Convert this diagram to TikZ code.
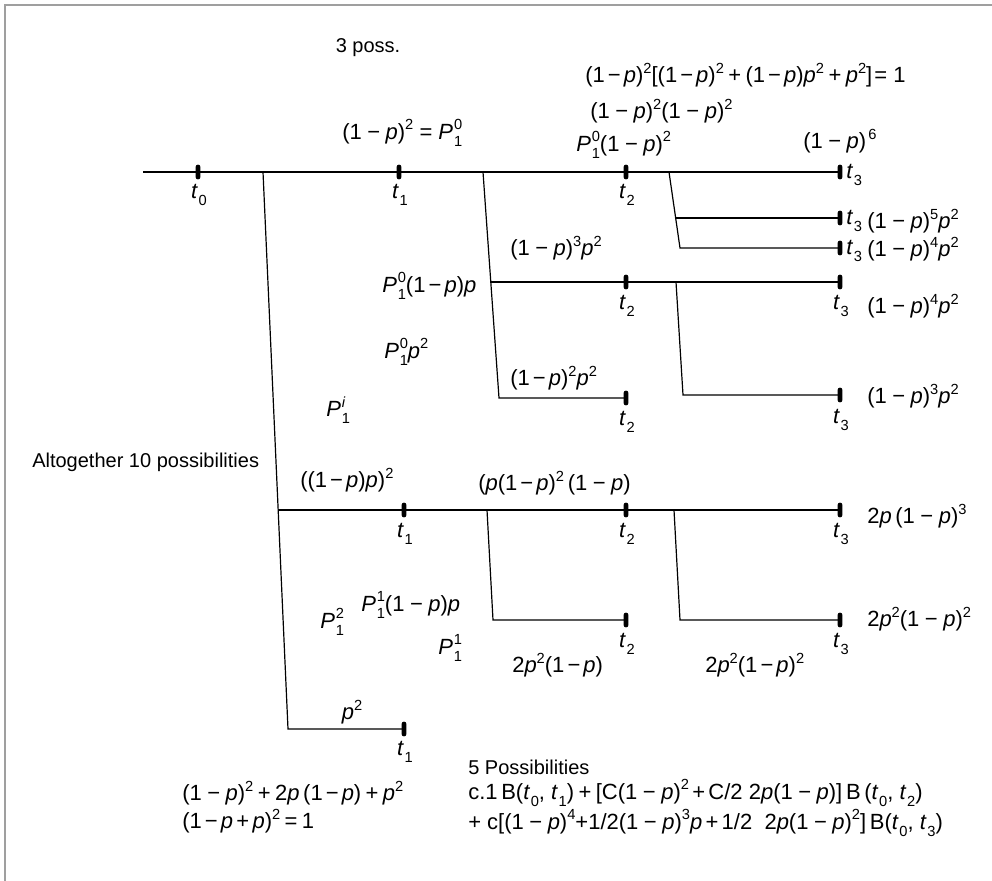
\documentclass[tikz,border=0pt]{standalone}
\usepackage{fontspec}
\setmainfont{Liberation Sans}
\newcommand{\pv}{\textit{p}}
\newcommand{\su}[1]{\raisebox{0.42em}{\fontsize{11}{11}\selectfont #1}}
\newcommand{\sbx}[1]{\raisebox{-0.32em}{\fontsize{11}{11}\selectfont #1}}
\newcommand{\tv}[1]{\textit{t}\kern0.03em\sbx{#1}}
\newcommand{\Pst}[2]{\textit{P}\kern0.04em\makebox[0pt][l]{\su{#2}}\sbx{#1}}
\newcommand{\mi}{\kern0.25em−\kern0.25em}
\newcommand{\ms}{\kern0.14em−\kern0.14em}
\begin{document}
\begin{tikzpicture}[x=0.75pt,y=-0.75pt,
  every node/.style={font=\fontsize{15}{18}\selectfont, inner sep=0pt},
  fm/.style={font=\fontsize{16.5}{19}\selectfont},
  ln/.style={line width=0.9pt},
  tk/.style={fill=black, rounded corners=1.6pt, minimum width=3.5pt, minimum height=11pt, inner sep=0pt},
  lw/.style={anchor=west},
  frame/.style={draw=gray!75, line width=1.6pt}]
\useasboundingbox (0,0) rectangle (992,881);
\draw[frame] (992,5) -- (5,5) -- (5,881);

% coordinates (junctions and ends)
\coordinate (m0) at (143,172);
\coordinate (j1) at (263,172);
\coordinate (j1e) at (288,729);
\coordinate (j1m) at (278,510);
\coordinate (j2) at (483,172);
\coordinate (j2e) at (499,398);
\coordinate (j2m) at (490.5,282);
\coordinate (j3) at (669,172);
\coordinate (j3e) at (680,248);
\coordinate (j3m) at (676,218);
\coordinate (j4) at (676,282);
\coordinate (j4e) at (683,395);
\coordinate (j5) at (487,510);
\coordinate (j5e) at (493,620);
\coordinate (j6) at (674,510);
\coordinate (j6e) at (680,620);

% ticks
\node[tk] (a0) at (198,172) {};
\node[tk] (a1) at (399,172) {};
\node[tk] (a2) at (626,172) {};
\node[tk] (a3) at (840,172) {};
\node[tk] (b3) at (840,218) {};
\node[tk] (c3) at (840,248) {};
\node[tk] (d2) at (626,282) {};
\node[tk] (d3) at (840,282) {};
\node[tk] (e2) at (626,398) {};
\node[tk] (f3) at (840,395) {};
\node[tk] (g1) at (404,510) {};
\node[tk] (g2) at (626,510) {};
\node[tk] (g3) at (840,510) {};
\node[tk] (h2) at (626,620) {};
\node[tk] (h3) at (840,620) {};
\node[tk] (k1) at (404,729) {};

% lines
\draw[ln] (m0) -- (a3.center);
\draw[ln] (j1) -- (j1e) -- (k1.center);
\draw[ln] (j1m) -- (g3.center);
\draw[ln] (j2) -- (j2e) -- (e2.center);
\draw[ln] (j2m) -- (d3.center);
\draw[ln] (j3) -- (j3e) -- (c3.center);
\draw[ln] (j3m) -- (b3.center);
\draw[ln] (j4) -- (j4e) -- (f3.center);
\draw[ln] (j5) -- (j5e) -- (h2.center);
\draw[ln] (j6) -- (j6e) -- (h3.center);

% tick labels
\begin{scope}[every node/.append style={fm}]
\node (la0) at (199,195) {\tv{0}};
\node (la1) at (400,195) {\tv{1}};
\node (la2) at (627,195) {\tv{2}};
\node[lw] (la3) at (846,175) {\tv{3}};
\node[lw] (lb3) at (846,221) {\tv{3}};
\node[lw] (lc3) at (846,251) {\tv{3}};
\node (ld2) at (627,306) {\tv{2}};
\node (ld3) at (841,306) {\tv{3}};
\node (le2) at (627,422) {\tv{2}};
\node (lf3) at (841,420) {\tv{3}};
\node (lg1) at (405,534) {\tv{1}};
\node (lg2) at (627,534) {\tv{2}};
\node (lg3) at (841,534) {\tv{3}};
\node (lh2) at (627,644) {\tv{2}};
\node (lh3) at (841,644) {\tv{3}};
\node (lk1) at (405,752) {\tv{1}};

% formulas
\node[lw] (eqa) at (585,75) {(1\ms\pv)\su{2}[(1\ms\pv)\su{2}\kern0.2em+\kern0.2em(1\ms\pv)\pv\su{2}\kern0.2em+\kern0.2em\pv\su{2}]\kern0.1em = 1};
\node[lw] (eqb) at (590,111) {(1\mi\pv)\su{2}(1\mi\pv)\su{2}};
\node[lw] (eqc) at (342,133) {(1\mi\pv)\su{2} = \Pst{1}{0}};
\node[lw] (eqd) at (576,145) {\Pst{1}{0}(1\mi\pv)\su{2}};
\node[lw] (eqe) at (803,141) {(1\mi\pv)\kern0.1em\su{6}};
\node[lw] (eqf) at (867,221) {(1\mi\pv)\su{5}\pv\su{2}};
\node[lw] (eqg) at (867,249) {(1\mi\pv)\su{4}\pv\su{2}};
\node[lw] (eqh) at (510,248) {(1\mi\pv)\su{3}\pv\su{2}};
\node[lw] (eqi) at (382,286) {\Pst{1}{0}(1\ms\pv)\pv};
\node[lw] (eqj) at (867,306) {(1\mi\pv)\su{4}\pv\su{2}};
\node[lw] (eqk) at (384,352) {\Pst{1}{0}\pv\su{2}};
\node[lw] (eql) at (510,378) {(1\ms\pv)\su{2}\pv\su{2}};
\node[lw] (eqm) at (326,410) {\Pst{1}{\textit{i}}};
\node[lw] (eqn) at (867,396) {(1\mi\pv)\su{3}\pv\su{2}};
\node[lw] (eqo) at (300,480) {((1\ms\pv)\pv)\su{2}};
\node[lw] (eqp) at (478,483) {(\pv(1\ms\pv)\su{2}\,(1\mi\pv)};
\node[lw] (eqq) at (867,516) {2\pv\,(1\mi\pv)\su{3}};
\node[lw] (eqr) at (361,605) {\Pst{1}{1}(1\mi\pv)\pv};
\node[lw] (eqs) at (320,622) {\Pst{1}{2}};
\node[lw] (eqt) at (438,648) {\Pst{1}{1}};
\node[lw] (equ) at (867,619) {2\pv\su{2}(1\mi\pv)\su{2}};
\node[lw] (eqv) at (512,665) {2\pv\su{2}(1\ms\pv)};
\node[lw] (eqw) at (705,665) {2\pv\su{2}(1\ms\pv)\su{2}};
\node (eqx) at (352,712) {\pv\su{2}};
\node[lw] (eqy) at (182,793) {(1\mi\pv)\su{2}\kern0.2em+\kern0.2em2\pv\,(1\ms\pv)\kern0.2em+\kern0.2em\pv\su{2}};
\node[lw] (eqz) at (182,821) {(1\ms\pv\kern0.15em+\kern0.15em\pv)\su{2}\kern0.2em=\kern0.2em1};
\node[lw] (cl1) at (468,793) {c.1\,B(\tv{0}, \tv{1})\kern0.2em+\kern0.2em[C(1\mi\pv)\su{2}\kern0.15em+\kern0.15em C/2 2\pv(1\mi\pv)]\,B\,(\tv{0}, \tv{2})};
\node[lw] (cl2) at (468,823) {+ c[(1\mi\pv)\su{4}+1/2(1\mi\pv)\su{3}\pv\kern0.15em+\kern0.15em1/2\ \ 2\pv(1\mi\pv)\su{2}]\,B(\tv{0}, \tv{3})};
\end{scope}

% plain texts
\node (poss3) at (368,48) {3 poss.};
\node[lw] (alt) at (32,462) {Altogether 10 possibilities};
\node[lw] (five) at (468,767) {5 Possibilities};
\end{tikzpicture}
\end{document}
